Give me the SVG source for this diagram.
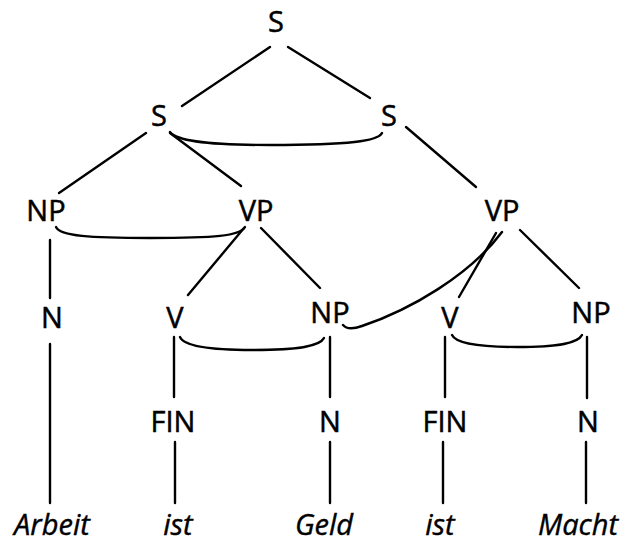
<svg xmlns="http://www.w3.org/2000/svg" width="622" height="543" viewBox="0 0 622 543">
  <style>
    .lbl { font-family: "Open Sans", "Noto Sans", "Liberation Sans", sans-serif; font-size: 29px; fill: #000; stroke: #000; stroke-width: 0.5; text-anchor: middle; }
    .word { font-family: "Open Sans", "Noto Sans", "Liberation Sans", sans-serif; font-size: 29px; font-style: italic; fill: #000; stroke: #000; stroke-width: 0.4; text-anchor: middle; }
    .edge { stroke: #000; stroke-width: 2.4; fill: none; stroke-linecap: round; }
  </style>
  <rect width="622" height="543" fill="#fff"/>

  <!-- tree branches and linking arcs -->
  <g id="connectors">
    <line class="edge" x1="270" y1="47" x2="182" y2="106"/>
    <line class="edge" x1="288" y1="47" x2="370" y2="98"/>
    <line class="edge" x1="146" y1="133" x2="59" y2="193"/>
    <line class="edge" x1="170" y1="133" x2="241" y2="186"/>
    <line class="edge" x1="406" y1="127" x2="476" y2="187"/>
    <line class="edge" x1="50" y1="240" x2="50" y2="298"/>
    <line class="edge" x1="244" y1="228" x2="188" y2="295"/>
    <line class="edge" x1="261" y1="228" x2="320" y2="288"/>
    <line class="edge" x1="496" y1="233" x2="459" y2="297"/>
    <line class="edge" x1="520" y1="230" x2="579" y2="288"/>
    <line class="edge" x1="50" y1="344" x2="50" y2="503"/>
    <line class="edge" x1="174" y1="337" x2="174" y2="397"/>
    <line class="edge" x1="330" y1="337" x2="330" y2="397"/>
    <line class="edge" x1="175" y1="442" x2="175" y2="503"/>
    <line class="edge" x1="330" y1="442" x2="330" y2="503"/>
    <line class="edge" x1="445" y1="337" x2="445" y2="397"/>
    <line class="edge" x1="443" y1="442" x2="443" y2="503"/>
    <line class="edge" x1="587" y1="337" x2="587" y2="398"/>
    <line class="edge" x1="586" y1="442" x2="586" y2="503"/>
    <!-- arcs -->
    <path class="edge" d="M170,132 C176,140 200,145 270,145 C350,145 378,141 382,133"/>
    <path class="edge" d="M56,227 C60,236 90,238 150,238 C215,238 240,236 245,227"/>
    <path class="edge" d="M180,337 C184,346 210,350 252,350 C300,350 320,346 324,338"/>
    <path class="edge" d="M452,335 C456,344 480,347 517,347 C560,347 578,343 582,335"/>
    <path class="edge" d="M343,325 Q348,331 362,326 C410,310 470,275 502,232"/>
  </g>

  <g id="n-s-top"><text class="lbl" x="276" y="32">S</text></g>
  <g id="n-s-left"><text class="lbl" x="159" y="126">S</text></g>
  <g id="n-s-right"><text class="lbl" x="389" y="126">S</text></g>
  <g id="n-np1"><text class="lbl" x="46" y="221">NP</text></g>
  <g id="n-vp1"><text class="lbl" x="256" y="221">VP</text></g>
  <g id="n-vp2"><text class="lbl" x="502" y="221">VP</text></g>
  <g id="n-n1"><text class="lbl" x="52" y="328">N</text></g>
  <g id="n-v1"><text class="lbl" x="175" y="328">V</text></g>
  <g id="n-np2"><text class="lbl" x="330" y="323">NP</text></g>
  <g id="n-v2"><text class="lbl" x="450" y="328">V</text></g>
  <g id="n-np3"><text class="lbl" x="591" y="323">NP</text></g>
  <g id="n-fin1"><text class="lbl" x="173" y="432">FIN</text></g>
  <g id="n-n2"><text class="lbl" x="330" y="432">N</text></g>
  <g id="n-fin2"><text class="lbl" x="445" y="432">FIN</text></g>
  <g id="n-n3"><text class="lbl" x="588" y="432">N</text></g>
  <g id="w-arbeit"><text class="word" x="52" y="535">Arbeit</text></g>
  <g id="w-ist1"><text class="word" x="178" y="535">ist</text></g>
  <g id="w-geld"><text class="word" x="324" y="535">Geld</text></g>
  <g id="w-ist2"><text class="word" x="440" y="535">ist</text></g>
  <g id="w-macht"><text class="word" x="578" y="535">Macht</text></g>
</svg>
